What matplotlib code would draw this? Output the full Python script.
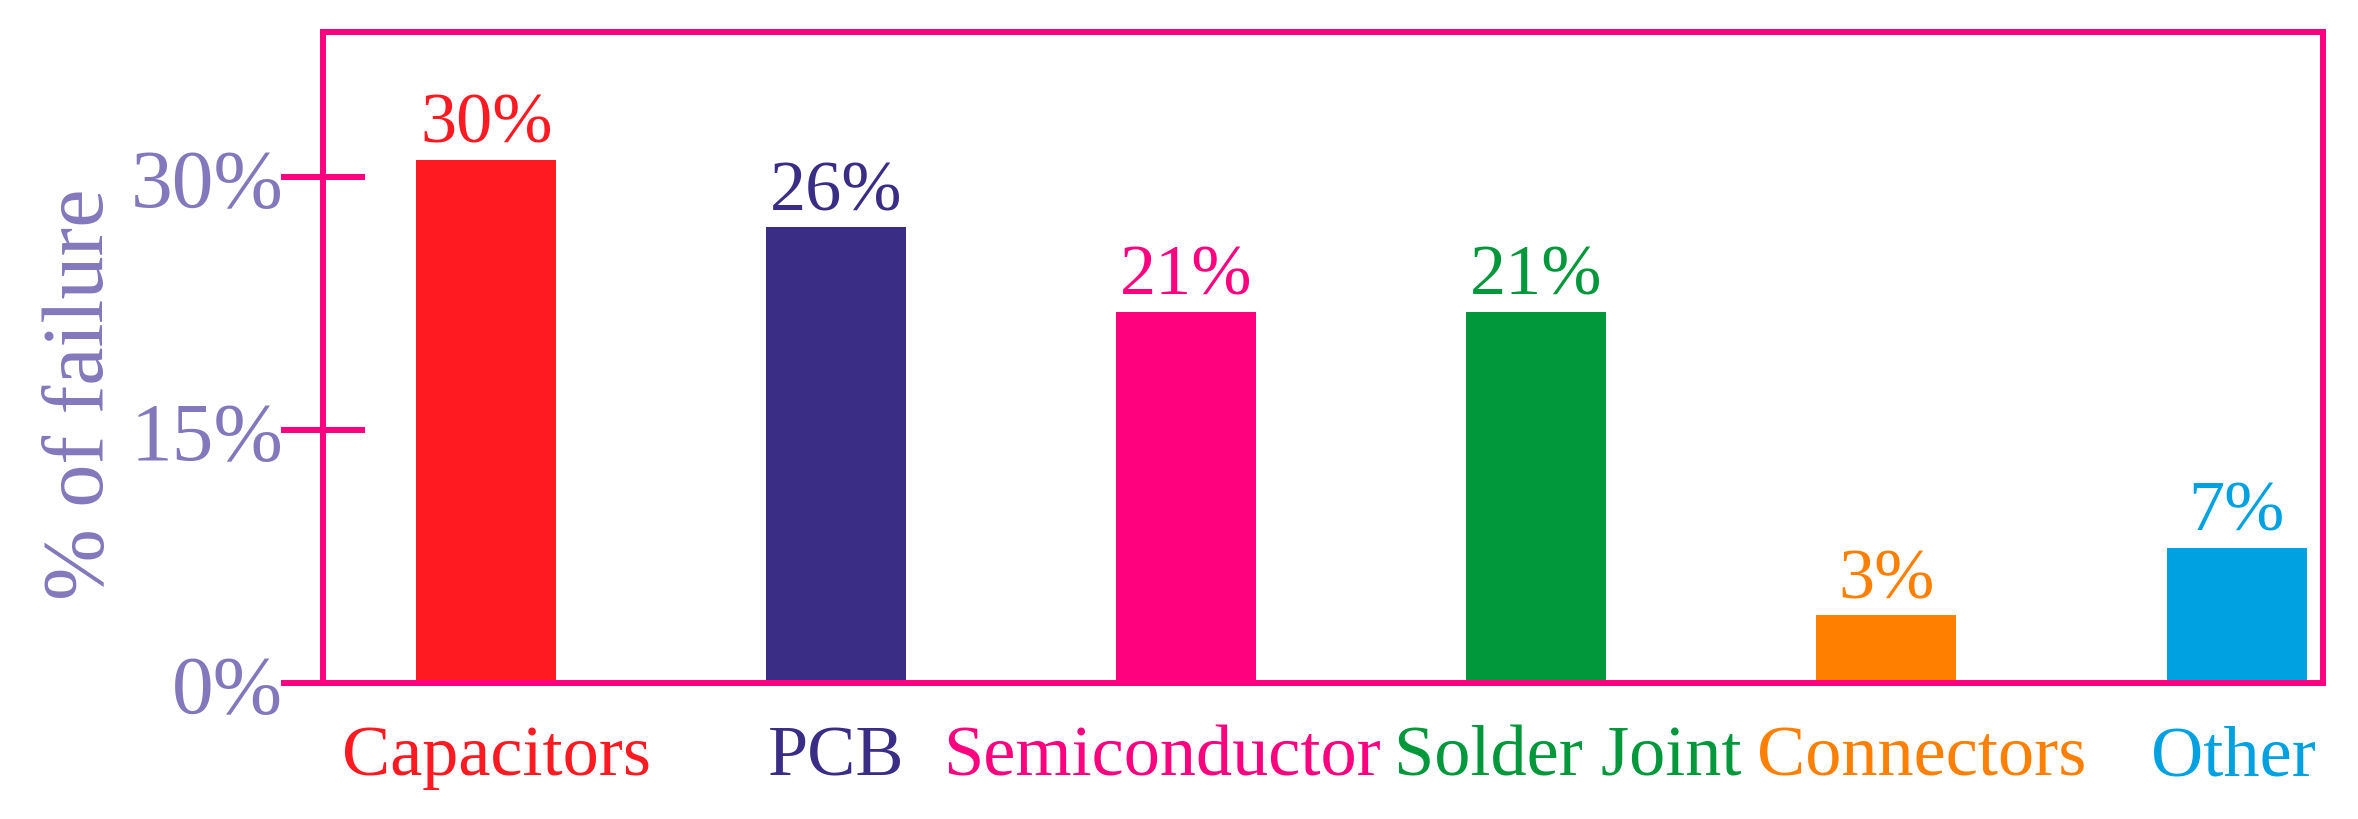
"""
Failure share by component: coloured bars inside a pink frame
"""

import matplotlib
matplotlib.use("Agg")
import matplotlib.pyplot as plt
import matplotlib.transforms as mtransforms

# ─── data ───────────────────────────────────────────────────────────────
categories = ["Capacitors", "PCB", "Semiconductor", "Solder Joint", "Connectors", "Other"]
bar_heights = [31, 27, 22, 22, 4, 8]          # bar tops as drawn in the picture (%)
value_labels = ["30%", "26%", "21%", "21%", "3%", "7%"]
bar_colors = ["#FF1A22", "#3A2D85", "#FF007F", "#00983B", "#FF8000", "#00A1E1"]
y_ticks = [0, 15, 30]
y_tick_labels = ["0%", "15%", "30%"]

# ─── style ──────────────────────────────────────────────────────────────
FRAME = "#FF0080"
AXIS_TXT = "#8478BC"
LW = 4.3
plt.rcParams["font.family"] = ["Liberation Serif", "DejaVu Serif"]

# small sideways nudges of the category names (data units), as in the original
label_shift = [0.03, 0.0, -0.07, 0.09, 0.10, -0.01]

fig = plt.figure(figsize=(23.58, 8.20), dpi=100)
ax = fig.add_axes([0.137, 0.166, 0.848, 0.794])

xs = list(range(len(categories)))
ax.bar(xs, bar_heights, width=0.4, color=bar_colors, linewidth=0, zorder=2)

# value labels above bars
for x, h, txt, c in zip(xs, bar_heights, value_labels, bar_colors):
    ax.annotate(txt, (x, h), xytext=(0, 13), textcoords="offset points",
                ha="center", va="baseline", fontsize=52, color=c)

# category names under the axis
trans = mtransforms.blended_transform_factory(ax.transData, ax.transAxes)
for x, name, c, dx in zip(xs, categories, bar_colors, label_shift):
    ax.text(x + dx, -0.14, name, transform=trans, ha="center", va="baseline",
            fontsize=52, color=c)

ax.set_xlim(-0.466, 5.246)
ax.set_ylim(0, 38.6)
ax.set_xticks([])
ax.set_yticks(y_ticks)
ax.set_yticklabels(y_tick_labels, fontsize=60, color=AXIS_TXT)
ax.tick_params(axis="y", direction="inout", length=61, width=LW,
               color=FRAME, pad=-2)

for sp in ax.spines.values():
    sp.set_color(FRAME)
    sp.set_linewidth(LW)

fig.text(82 / 2358, 1 - 394 / 820, "% of failure", rotation=90,
         ha="center", va="center", fontsize=62, color=AXIS_TXT)

fig.savefig("out.png", dpi=100, facecolor="white")
